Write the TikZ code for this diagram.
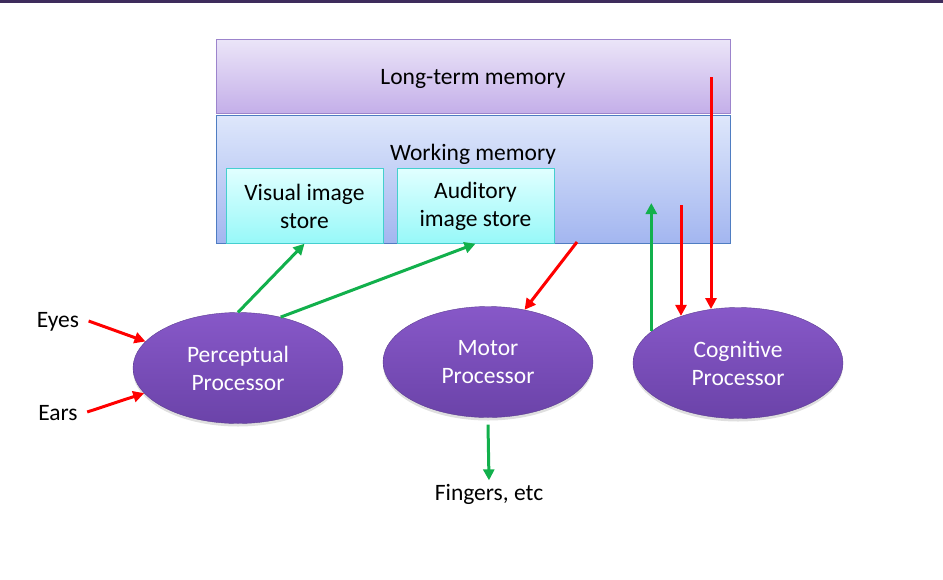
\documentclass[tikz,border=0pt]{standalone}
\usepackage{fontspec}
\setmainfont{Carlito}
\usetikzlibrary{shapes.geometric,arrows.meta,calc,positioning,shadows}
\definecolor{band}{HTML}{3E2C5C}
\definecolor{ltmtop}{HTML}{EBE5F8}
\definecolor{ltmbot}{HTML}{C4AFE9}
\definecolor{ltmline}{HTML}{9C84CC}
\definecolor{wmtop}{HTML}{DEE7FB}
\definecolor{wmbot}{HTML}{A3B6F0}
\definecolor{wmline}{HTML}{4F7DC2}
\definecolor{storetop}{HTML}{E0FFFF}
\definecolor{storebot}{HTML}{97F8F8}
\definecolor{storeline}{HTML}{45CFCF}
\definecolor{proctop}{HTML}{8758C8}
\definecolor{procbot}{HTML}{6B43A9}
\definecolor{procline}{HTML}{5C3D92}
\definecolor{arrgreen}{HTML}{12B04C}
\tikzstyle{memory} = [rectangle, minimum width=514pt, inner sep=0pt]
\tikzstyle{store} = [rectangle, minimum width=157pt, minimum height=75pt,
align=center, draw=storeline, top color=storetop, bottom color=storebot,
font=\fontsize{23.5}{28}\selectfont]
\tikzstyle{proc} = [ellipse, minimum width=210pt, minimum height=111pt,
align=center, draw=procline, top color=proctop, bottom color=procbot,
text=white, font=\fontsize{23.5}{28}\selectfont,
drop shadow={opacity=0.25, shadow xshift=0pt, shadow yshift=-3pt}]
\tikzstyle{lbl} = [font=\fontsize{23.5}{28}\selectfont]
\tikzstyle{redarrow} = [line width=3pt, red, -{Triangle[length=11pt,width=11pt]}]
\tikzstyle{greenarrow} = [line width=3pt, arrgreen, -{Triangle[length=11pt,width=11pt]}]

\begin{document}
\begin{tikzpicture}[x=1pt, y=-1pt]
    \useasboundingbox (0,0) rectangle (943,579);
    \fill[band] (0,0) rectangle (943,3);
    % memories
    \node[memory, minimum height=74pt, draw=ltmline, top color=ltmtop,
        bottom color=ltmbot, lbl, text height=21pt, text depth=5pt] (ltm) at (473,76) {Long-term memory};
    \node[memory, minimum height=128pt, draw=wmline, top color=wmtop,
        bottom color=wmbot,
        label={[lbl, anchor=north, yshift=-26pt]north:Working memory}] (wm) at (473,179) {};
    \node[store] (vis) at (304.5,206) {Visual image\\store};
    \node[store] (aud) at (475.5,206) {Auditory\\image store};
    % processors
    \node[proc] (perc) at (238,368) {Perceptual\\Processor};
    \node[proc] (motor) at (488,362) {Motor\\Processor};
    \node[proc] (cog) at (738,363) {Cognitive\\Processor};
    \node[lbl] (eyes) at (58,322) {Eyes};
    \node[lbl] (ears) at (58,413) {Ears};
    \node[lbl] (fingers) at (489,494) {Fingers, etc};
    % free ends inside the memories
    \coordinate (wmout) at (577,242);
    \coordinate (wmin) at (651,203);
    \coordinate (wmdown) at (681,205);
    \coordinate (ltmdown) at (711,77);
    % connectors
    \draw[redarrow] (eyes.east) ++(6,-1) -- (perc.164);
    \draw[redarrow] (ears.east) ++(6,-1) -- (perc.195);
    \draw[greenarrow] (perc.north) -- (vis.south);
    \draw[greenarrow] (perc.50) -- (aud.south);
    \draw[redarrow] (wmout) -- (motor.55);
    \draw[greenarrow] (motor.south) ++(0,7) -- (fingers.north);
    \draw[greenarrow] (cog.160) -- (cog.160 |- wmin);
    \draw[redarrow] (wmdown) -- (wmdown |- cog.140);
    \draw[redarrow] (ltmdown) -- (ltmdown |- cog.116);
\end{tikzpicture}
\end{document}
